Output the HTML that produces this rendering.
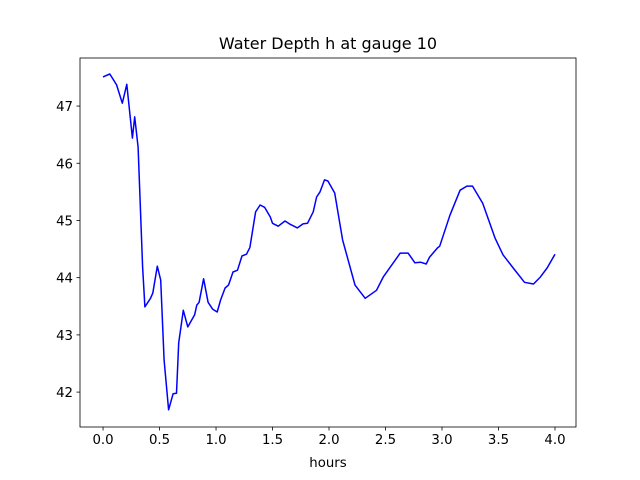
<!DOCTYPE html>
<html><head><meta charset="utf-8"><style>
body{margin:0;background:#fff}
svg{display:block;font-family:"DejaVu Sans","Liberation Sans",sans-serif}
</style></head><body>
<svg width="640" height="480" viewBox="0 0 640 480">
<rect width="640" height="480" fill="#fff"/>
<g id="ax"></g>
</svg>
<script>
const hours=[0.00,0.06,0.12,0.17,0.21,0.26,0.28,0.31,0.35,0.37,0.42,0.44,0.48,0.51,0.54,0.58,0.62,0.65,0.67,0.71,0.75,0.81,0.83,0.85,0.89,0.93,0.97,1.01,1.04,1.08,1.11,1.15,1.19,1.23,1.27,1.30,1.35,1.39,1.43,1.48,1.50,1.55,1.61,1.65,1.72,1.77,1.81,1.86,1.89,1.92,1.96,1.99,2.05,2.12,2.23,2.32,2.42,2.48,2.63,2.70,2.76,2.81,2.86,2.89,2.96,2.98,3.07,3.16,3.22,3.27,3.36,3.47,3.54,3.63,3.73,3.81,3.87,3.93,4.00];
const depth=[47.51,47.56,47.37,47.05,47.38,46.44,46.81,46.28,44.19,43.49,43.64,43.73,44.20,43.96,42.56,41.69,41.97,41.98,42.86,43.43,43.14,43.35,43.52,43.57,43.98,43.57,43.45,43.40,43.61,43.82,43.87,44.10,44.13,44.38,44.41,44.53,45.15,45.27,45.23,45.06,44.95,44.90,44.99,44.94,44.87,44.94,44.95,45.15,45.41,45.50,45.71,45.69,45.48,44.66,43.87,43.64,43.78,44.01,44.43,44.43,44.26,44.27,44.24,44.36,44.52,44.55,45.09,45.53,45.60,45.60,45.30,44.69,44.40,44.17,43.92,43.89,44.01,44.17,44.41];
const xTicks=["0.0","0.5","1.0","1.5","2.0","2.5","3.0","3.5","4.0"];
const yTicks=["42","43","44","45","46","47"];
const L=80,R=576,T=58,B=427;
const xMin=-0.204,xMax=4.186,yMin=41.39,yMax=47.84;
const sx=v=>L+(v-xMin)/(xMax-xMin)*(R-L);
const sy=v=>B-(v-yMin)/(yMax-yMin)*(B-T);
const g=document.getElementById('ax');
const NS='http://www.w3.org/2000/svg';
function mk(t,a){const e=document.createElementNS(NS,t);for(const k in a)e.setAttribute(k,a[k]);g.appendChild(e);return e;}
let d='';
for(let i=0;i<hours.length;i++){d+=(i?'L':'M')+sx(hours[i]).toFixed(1)+','+sy(depth[i]).toFixed(1);}
const line=mk('path',{d:d,fill:'none',stroke:'#0000ff','stroke-width':1.5,'stroke-linejoin':'round'});


const frame=mk('rect',{x:L,y:T,width:R-L,height:B-T,fill:'none',stroke:'#000','stroke-width':0.8});


xTicks.forEach(t=>{const x=sx(parseFloat(t));
 mk('line',{x1:x,x2:x,y1:B,y2:B+3.5,stroke:'#000','stroke-width':0.8});
 const tx=mk('text',{x:x,y:B+17,'text-anchor':'middle','font-size':'13.3'});tx.textContent=t;
 
 });
yTicks.forEach(t=>{const y=sy(parseFloat(t));
 mk('line',{x1:L-3.5,x2:L,y1:y,y2:y,stroke:'#000','stroke-width':0.8});
 const tx=mk('text',{x:L-7,y:y+5,'text-anchor':'end','font-size':'13.3'});tx.textContent=t;
 
 });
const xl=mk('text',{x:(L+R)/2,y:467,'text-anchor':'middle','font-size':'13.3'});xl.textContent='hours';


const ti=mk('text',{x:(L+R)/2,y:49,'text-anchor':'middle','font-size':'16'});ti.textContent='Water Depth h at gauge 10';


</script>
</body></html>
